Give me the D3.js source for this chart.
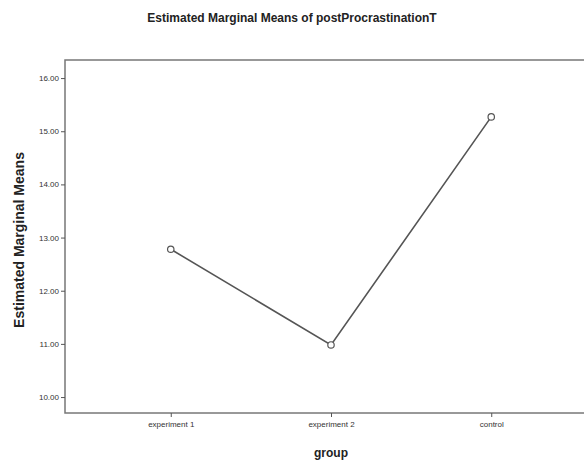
<!DOCTYPE html>
<html>
<head>
<meta charset="utf-8">
<style>
  body { margin: 0; background: #fff; }
  svg { display: block; font-family: Arial, "Liberation Sans", sans-serif; }
</style>
</head>
<body>
<svg width="584" height="460"></svg>
<script src="https://cdn.jsdelivr.net/npm/d3@7/dist/d3.min.js"></script>
<script>
var groups = ["experiment 1", "experiment 2", "control"];
var means = [12.78, 10.98, 15.27];
var yTicks = [10, 11, 12, 13, 14, 15, 16];

var svg = d3.select("svg");
var plotL = 65, plotR = 597, plotT = 60, plotB = 413;

var x = d3.scalePoint().domain(groups).range([plotL, plotR]).padding(0.66);
var y = d3.scaleLinear().domain([9.7, 16.34]).range([plotB, plotT]);

// frame (right side runs off the picture, as in the original)
svg.append("rect")
    .attr("x", plotL).attr("y", plotT)
    .attr("width", plotR - plotL).attr("height", plotB - plotT)
    .attr("fill", "none").attr("stroke", "#777").attr("stroke-width", 1.5);

// y axis
var yAxis = svg.append("g")
    .attr("transform", "translate(" + plotL + ",0)")
    .call(d3.axisLeft(y).tickValues(yTicks).tickSize(4).tickPadding(2)
        .tickFormat(d3.format(".2f")));
yAxis.select(".domain").remove();
yAxis.selectAll("line").attr("stroke", "#555");
yAxis.selectAll("text").attr("font-size", 8).attr("fill", "#333")
    .attr("font-family", "Arial, 'Liberation Sans', sans-serif");

// x axis
var xAxis = svg.append("g")
    .attr("transform", "translate(0," + plotB + ")")
    .call(d3.axisBottom(x).tickSize(4).tickPadding(4));
xAxis.select(".domain").remove();
xAxis.selectAll("line").attr("stroke", "#555");
xAxis.selectAll("text").attr("font-size", 8).attr("fill", "#333")
    .attr("font-family", "Arial, 'Liberation Sans', sans-serif");

// line + markers
var line = d3.line()
    .x(function(d, i) { return x(groups[i]); })
    .y(function(d) { return y(d); });

svg.append("path")
    .datum(means)
    .attr("d", line)
    .attr("fill", "none")
    .attr("stroke", "#555")
    .attr("stroke-width", 1.6);

svg.selectAll(".pt")
    .data(means)
  .enter().append("circle")
    .attr("class", "pt")
    .attr("cx", function(d, i) { return x(groups[i]); })
    .attr("cy", function(d) { return y(d); })
    .attr("r", 3.2)
    .attr("fill", "#fff")
    .attr("stroke", "#555")
    .attr("stroke-width", 1.2);

// titles
svg.append("text")
    .attr("x", 292).attr("y", 22)
    .attr("text-anchor", "middle")
    .attr("font-size", 12).attr("font-weight", "bold").attr("fill", "#222")
    .text("Estimated Marginal Means of postProcrastinationT");

svg.append("text")
    .attr("transform", "translate(24,240) rotate(-90)")
    .attr("text-anchor", "middle")
    .attr("font-size", 14).attr("font-weight", "bold").attr("fill", "#222")
    .text("Estimated Marginal Means");

svg.append("text")
    .attr("x", 331).attr("y", 457)
    .attr("text-anchor", "middle")
    .attr("font-size", 12).attr("font-weight", "bold").attr("fill", "#222")
    .text("group");
</script>
</body>
</html>
